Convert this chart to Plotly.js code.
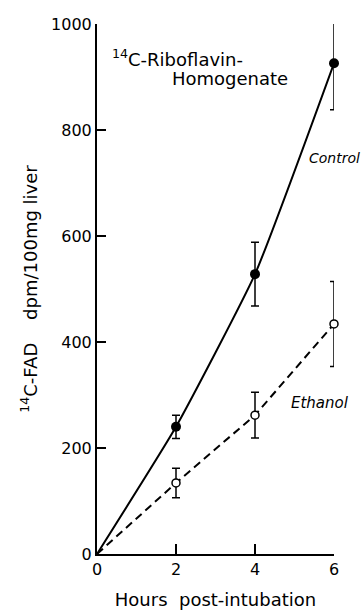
<!DOCTYPE html>
<html>
<head>
<meta charset="utf-8">
<script src="https://cdn.plot.ly/plotly-3.0.1.min.js"></script>
<style>html,body{margin:0;padding:0;background:#fff;}#chart{width:362px;height:610px;}</style>
</head>
<body>
<div id="chart"></div>
<script>
// Data
var hours = [0, 2, 4, 6];
var controlValues = [0, 240, 528, 926];
var controlErrors = [0, 22, 60, 88];
var ethanolValues = [0, 134, 262, 434];
var ethanolErrors = [0, 28, 43, 80];
var xTicks = [0, 2, 4, 6];
var yTicks = [0, 200, 400, 600, 800, 1000];

var FONT = 'DejaVu Sans, Liberation Sans, sans-serif';

var traces = [
  {x: hours, y: controlValues, mode: 'lines', type: 'scatter',
   line: {color: '#000', width: 2, shape: 'spline', smoothing: 0.45}, hoverinfo: 'skip', cliponaxis: false},
  {x: hours, y: ethanolValues, mode: 'lines', type: 'scatter',
   line: {color: '#000', width: 2, dash: '8px,5px'}, hoverinfo: 'skip', cliponaxis: false},
  {x: hours.slice(1), y: controlValues.slice(1), mode: 'markers', type: 'scatter', cliponaxis: false,
   marker: {color: '#000', size: 10, symbol: 'circle'},
   error_y: {type: 'data', array: controlErrors.slice(1), visible: true, color: '#000', thickness: 1.5, width: 4}},
  {x: hours.slice(1), y: ethanolValues.slice(1), mode: 'markers', type: 'scatter', cliponaxis: false,
   marker: {color: '#fff', size: 8, symbol: 'circle', line: {color: '#000', width: 1.5}},
   error_y: {type: 'data', array: ethanolErrors.slice(1), visible: true, color: '#000', thickness: 1.5, width: 4}}
];

var layout = {
  width: 362, height: 610,
  margin: {l: 97, r: 28, t: 24, b: 56},
  paper_bgcolor: '#fff', plot_bgcolor: '#fff',
  showlegend: false,
  font: {family: FONT, color: '#000', size: 16},
  xaxis: {
    range: [0, 6], tickvals: xTicks, ticktext: xTicks.map(String),
    showgrid: false, zeroline: false, showline: true, linecolor: '#000', linewidth: 2,
    ticks: 'inside', ticklen: 10, tickwidth: 2, tickcolor: '#000',
    tickfont: {family: FONT, size: 16, color: '#000'},
    title: {text: 'Hours\u00a0\u00a0post-intubation', font: {family: FONT, size: 18, color: '#000'}, standoff: 15}
  },
  yaxis: {
    range: [0, 1000], tickvals: yTicks, ticktext: yTicks.map(String),
    showgrid: false, zeroline: false, showline: true, linecolor: '#000', linewidth: 2,
    ticks: 'inside', ticklen: 9, tickwidth: 2, tickcolor: '#000',
    tickfont: {family: FONT, size: 16, color: '#000'},
    title: {text: '<sup>14</sup>C-FAD\u00a0\u00a0\u00a0\u00a0dpm/100mg liver', font: {family: FONT, size: 18, color: '#000'}, standoff: 9}
  },
  annotations: [
    {xref: 'paper', yref: 'paper', x: 0.055, y: 0.936, xanchor: 'left', yanchor: 'middle', showarrow: false,
     text: '<sup>14</sup>C-Riboflavin-', font: {family: FONT, size: 18, color: '#000'}},
    {xref: 'paper', yref: 'paper', x: 0.308, y: 0.898, xanchor: 'left', yanchor: 'middle', showarrow: false,
     text: 'Homogenate', font: {family: FONT, size: 18, color: '#000'}},
    {xref: 'paper', yref: 'paper', x: 0.885, y: 0.747, xanchor: 'left', yanchor: 'middle', showarrow: false,
     text: '<i>Control</i>', font: {family: FONT, size: 14, color: '#000'}},
    {xref: 'paper', yref: 'paper', x: 0.81, y: 0.285, xanchor: 'left', yanchor: 'middle', showarrow: false,
     text: '<i>Ethanol</i>', font: {family: FONT, size: 15, color: '#000'}}
  ]
};

Plotly.newPlot('chart', traces, layout, {displayModeBar: false, staticPlot: true});
</script>
</body>
</html>
